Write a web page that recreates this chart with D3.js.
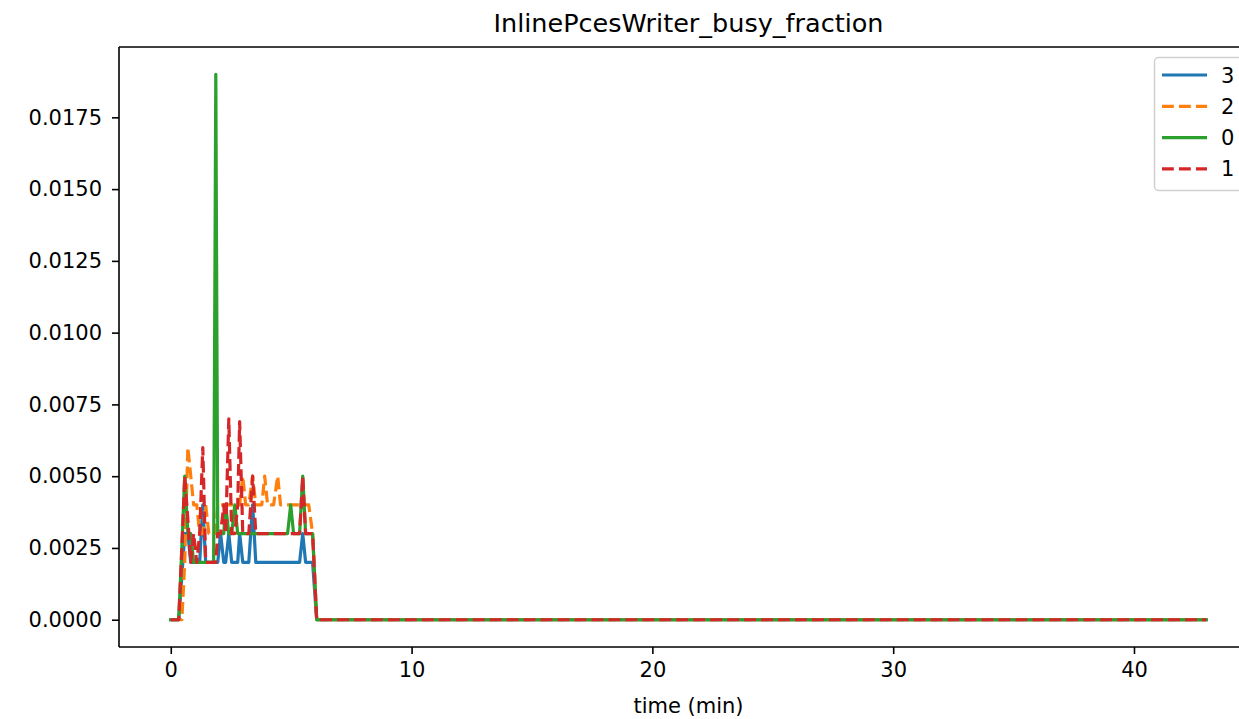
<!DOCTYPE html>
<html>
<head>
<meta charset="utf-8">
<script src="https://cdn.jsdelivr.net/npm/d3@7"></script>
<style>
  html, body { margin: 0; padding: 0; background: #fff; }
  svg { display: block; font-family: "DejaVu Sans", sans-serif; }
</style>
</head>
<body>
<svg id="chart" width="1239" height="719"></svg>
<script>
// ---- data (time in minutes, values are busy fraction) ----
const times = [0.00, 0.33, 0.46, 0.58, 0.71, 0.83, 0.95, 1.08, 1.20, 1.33, 1.45, 1.58, 1.70, 1.78, 1.87, 1.95,
  2.07, 2.20, 2.28, 2.41, 2.53, 2.66, 2.78, 2.86, 2.99, 3.11, 3.24, 3.40, 3.53, 3.65, 3.78, 3.90,
  4.02, 4.15, 4.27, 4.44, 4.56, 4.73, 4.85, 4.98, 5.10, 5.23, 5.35, 5.48, 5.60, 5.73, 5.89, 6.06, 43.0];

const series3 = [0, 0, 0.0015, 0.003, 0.003, 0.002, 0.002, 0.002, 0.002, 0.004, 0.002, 0.002, 0.002, 0.002, 0.002, 0.002,
  0.003, 0.002, 0.002, 0.003, 0.002, 0.002, 0.002, 0.003, 0.002, 0.002, 0.002, 0.004, 0.002, 0.002, 0.002, 0.002,
  0.002, 0.002, 0.002, 0.002, 0.002, 0.002, 0.002, 0.002, 0.002, 0.002, 0.002, 0.003, 0.002, 0.002, 0.002, 0, 0];

const series2 = [0, 0, 0, 0.002, 0.006, 0.005, 0.004, 0.004, 0.003, 0.003, 0.004, 0.003, 0.003, 0.003, 0.003, 0.004,
  0.004, 0.004, 0.004, 0.004, 0.004, 0.004, 0.004, 0.004, 0.005, 0.004, 0.004, 0.005, 0.004, 0.004, 0.004, 0.005,
  0.004, 0.004, 0.004, 0.005, 0.004, 0.004, 0.004, 0.004, 0.004, 0.004, 0.004, 0.004, 0.004, 0.004, 0.003, 0, 0];

const series0 = [0, 0, 0.0025, 0.005, 0.003, 0.003, 0.002, 0.002, 0.002, 0.002, 0.002, 0.002, 0.002, 0.002, 0.019, 0.003,
  0.003, 0.003, 0.004, 0.003, 0.003, 0.004, 0.003, 0.003, 0.003, 0.003, 0.003, 0.003, 0.003, 0.003, 0.003, 0.003,
  0.003, 0.003, 0.003, 0.003, 0.003, 0.003, 0.003, 0.004, 0.003, 0.003, 0.003, 0.005, 0.003, 0.003, 0.003, 0, 0];

const series1 = [0, 0, 0.0025, 0.005, 0.0035, 0.002, 0.003, 0.002, 0.003, 0.006, 0.002, 0.002, 0.002, 0.002, 0.002, 0.003,
  0.003, 0.004, 0.003, 0.007, 0.003, 0.003, 0.004, 0.0069, 0.003, 0.003, 0.003, 0.005, 0.003, 0.003, 0.003, 0.003,
  0.003, 0.003, 0.003, 0.003, 0.003, 0.003, 0.003, 0.003, 0.003, 0.003, 0.003, 0.005, 0.003, 0.003, 0.003, 0, 0];

const seriesNames = ["3", "2", "0", "1"];
const seriesValues = [series3, series2, series0, series1];
const seriesColors = ["#1f77b4", "#ff7f0e", "#2ca02c", "#d62728"];
const seriesDashed = [false, true, false, true];

const xTicks = [0, 10, 20, 30, 40];
const yTicks = [0, 0.0025, 0.005, 0.0075, 0.01, 0.0125, 0.015, 0.0175];
const titleText = "InlinePcesWriter_busy_fraction";
const xLabelText = "time (min)";

(function () {
const svg = d3.select("#chart");
const pL = 119, pR = 1258, pT = 47, pB = 647;
const fs = 21;

const xMin = d3.min(times), xMax = d3.max(times);
const xPad = (xMax - xMin) * 0.05;
const allVals = seriesValues.flat();
const yMin = d3.min(allVals), yMax = d3.max(allVals);
const yPad = (yMax - yMin) * 0.05;

const x = d3.scaleLinear().domain([xMin - xPad, xMax + xPad]).range([pL, pR]);
const y = d3.scaleLinear().domain([yMin - yPad, yMax + yPad]).range([pB, pT]);

svg.append("defs").append("clipPath").attr("id", "clip")
  .append("rect").attr("x", pL).attr("y", pT).attr("width", pR - pL).attr("height", pB - pT);

const lw = 3.2;
const dash = `${3.7 * lw},${1.6 * lw}`;
const line = d3.line().x(d => x(d[0])).y(d => y(d[1]));
const g = svg.append("g").attr("clip-path", "url(#clip)");
seriesValues.forEach((vals, i) => {
  g.append("path")
    .datum(times.map((t, k) => [t, vals[k]]))
    .attr("d", line)
    .attr("fill", "none")
    .attr("stroke", seriesColors[i])
    .attr("stroke-width", lw)
    .attr("stroke-linejoin", "round")
    .attr("stroke-linecap", seriesDashed[i] ? "butt" : "square")
    .attr("stroke-dasharray", seriesDashed[i] ? dash : null);
});

const xAxis = d3.axisBottom(x).tickValues(xTicks).tickFormat(d3.format("d")).tickSizeOuter(0).tickSize(7).tickPadding(8);
const yAxis = d3.axisLeft(y).tickValues(yTicks).tickFormat(d3.format(".4f")).tickSizeOuter(0).tickSize(7).tickPadding(10);

const gx = svg.append("g").attr("transform", `translate(0,${pB})`).call(xAxis);
const gy = svg.append("g").attr("transform", `translate(${pL},0)`).call(yAxis);
[gx, gy].forEach(a => {
  a.select(".domain").remove();
  a.selectAll(".tick line").attr("stroke", "#000").attr("stroke-width", 1.6);
  a.selectAll(".tick text").attr("fill", "#000").style("font-size", fs + "px").style("font-family", "DejaVu Sans");
});

const spine = (x1, y1, x2, y2) => svg.append("line").attr("x1", x1).attr("y1", y1).attr("x2", x2).attr("y2", y2)
  .attr("stroke", "#000").attr("stroke-width", 1.6);
spine(pL, pT, pL, pB);
spine(pL, pB, pR, pB);
spine(pL, pT, pR, pT);

svg.append("text").attr("x", (pL + pR) / 2).attr("y", 32).attr("text-anchor", "middle")
  .style("font-size", "25.5px").attr("fill", "#000").text(titleText);
svg.append("text").attr("x", (pL + pR) / 2).attr("y", 713).attr("text-anchor", "middle")
  .style("font-size", fs + "px").attr("fill", "#000").text(xLabelText);

const lg = svg.append("g");
lg.append("rect").attr("x", 1154.5).attr("y", 57.5).attr("width", 110).attr("height", 133)
  .attr("rx", 4).attr("fill", "#fff").attr("fill-opacity", 0.8).attr("stroke", "#d0d0d0").attr("stroke-width", 1.5);
seriesNames.forEach((name, i) => {
  const yy = 75 + i * 31.3;
  lg.append("line").attr("x1", 1162).attr("x2", 1207).attr("y1", yy).attr("y2", yy)
    .attr("stroke", seriesColors[i]).attr("stroke-width", lw)
    .attr("stroke-dasharray", seriesDashed[i] ? dash : null);
  lg.append("text").attr("x", 1221).attr("y", yy + 7.5).style("font-size", fs + "px").attr("fill", "#000").text(name);
});
})();
</script>
</body>
</html>
